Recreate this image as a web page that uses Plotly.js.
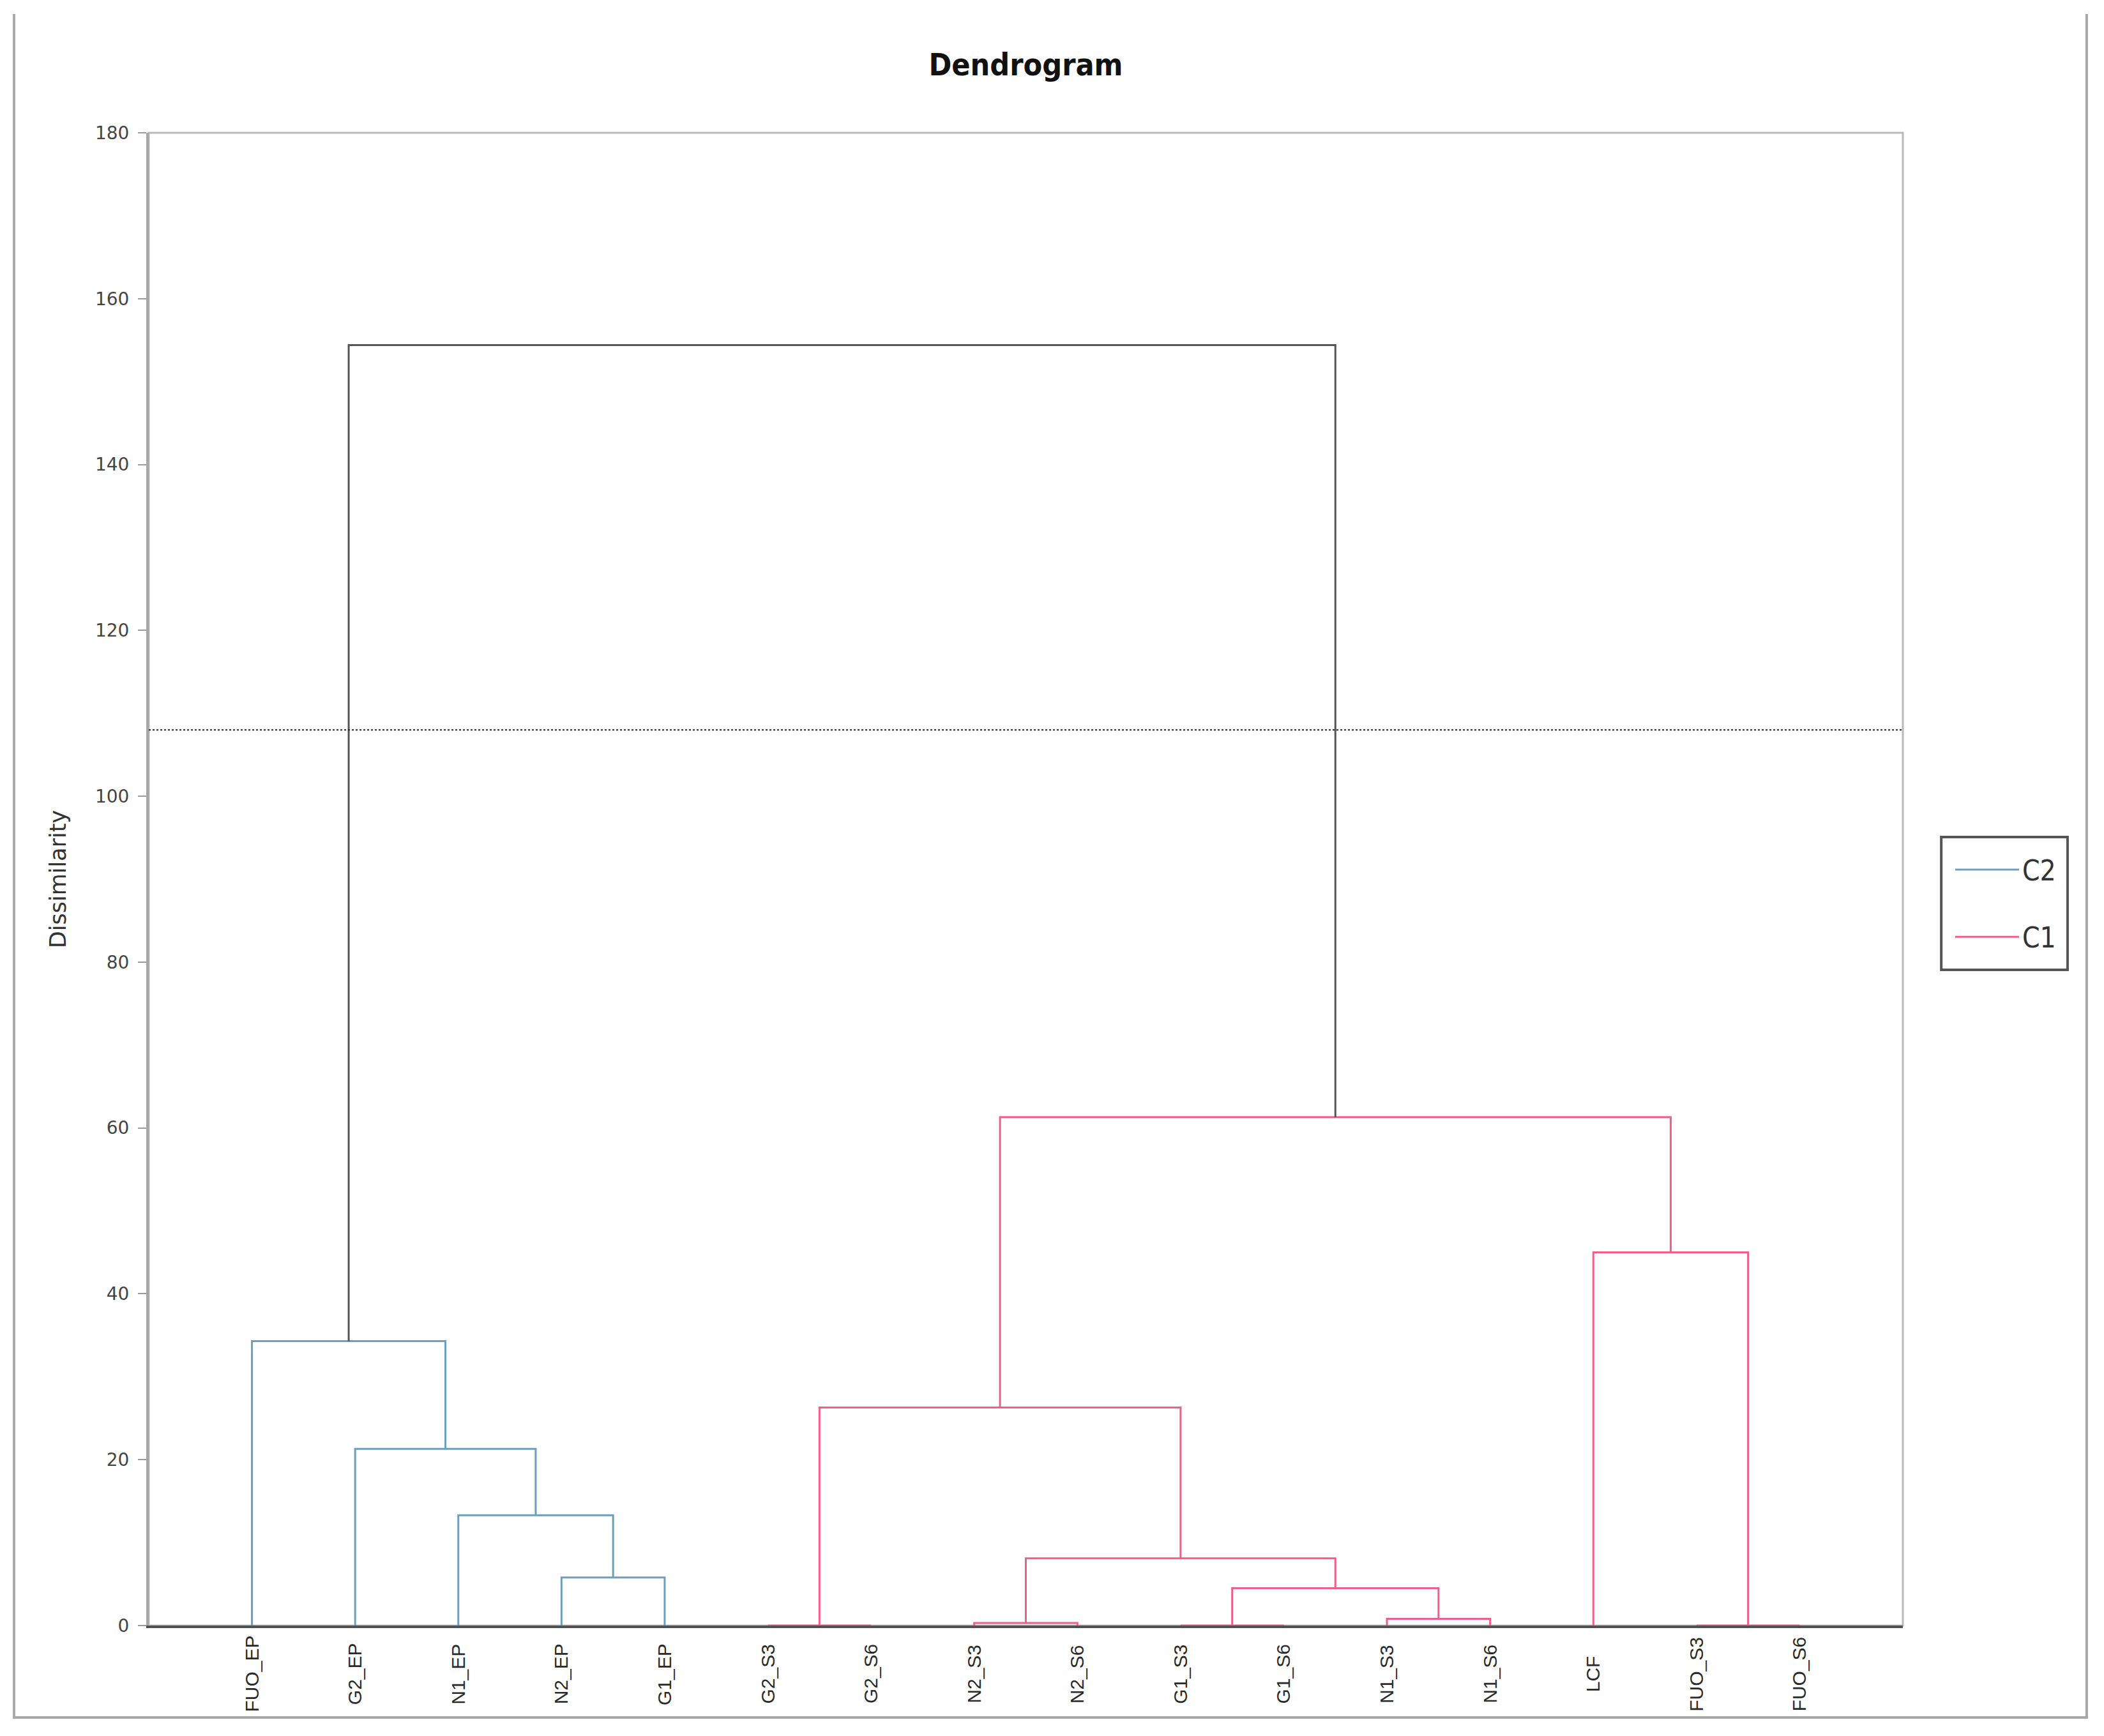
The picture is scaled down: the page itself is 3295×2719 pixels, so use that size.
<!DOCTYPE html>
<html><head><meta charset="utf-8">
<script src="https://cdn.plot.ly/plotly-3.0.1.min.js"></script>
<style>html,body{margin:0;padding:0;background:#fff}</style>
</head><body>
<div id="chart" style="width:3295px;height:2719px"></div>
<script>
// ---- data ----
const leafLabels = ['FUO_EP','G2_EP','N1_EP','N2_EP','G1_EP','G2_S3','G2_S6','N2_S3','N2_S6','G1_S3','G1_S6','N1_S3','N1_S6','LCF','FUO_S3','FUO_S6'];
// linkage: node ids 0..15 are leaves, 16.. are merges in this order
const mergeLeft   = [3, 2, 1, 0, 5, 7, 9, 11, 22, 21, 20, 14, 13, 26, 19];
const mergeRight  = [4, 16, 17, 18, 6, 8, 10, 12, 23, 24, 25, 15, 27, 28, 29];
const mergeHeight = [5.8, 13.3, 21.3, 34.3, 0, 0.3, 0, 0.8, 4.5, 8.1, 26.3, 0, 45.0, 61.3, 154.4];
const mergeClass  = ['C2','C2','C2','C2','C1','C1','C1','C1','C1','C1','C1','C1','C1','C1','root'];
const truncationLevel = 108;
const yTickVals = [0, 20, 40, 60, 80, 100, 120, 140, 160, 180];
const classNames = ['C2', 'C1'];

// ---- styles ----
const classColor = {C2: '#6b9fbf', C1: '#ef5f86', root: '#555555'};
const LEAF_FONT = 'Liberation Sans, Arial, sans-serif';
const NARROW = 'DejaVu Sans Condensed, Liberation Sans Narrow, sans-serif';

// ---- build dendrogram paths ----
const nLeaf = leafLabels.length;
const nodeX = [], nodeY = [];
for (let i = 0; i < nLeaf; i++) { nodeX.push(i + 1); nodeY.push(0); }
const segs = {C2: {x: [], y: []}, C1: {x: [], y: []}, root: {x: [], y: []}};
for (let k = 0; k < mergeLeft.length; k++) {
  const l = mergeLeft[k], r = mergeRight[k], h = mergeHeight[k];
  const s = segs[mergeClass[k]];
  s.x.push(nodeX[l], nodeX[l], nodeX[r], nodeX[r], null);
  s.y.push(nodeY[l], h, h, nodeY[r], null);
  nodeX.push((nodeX[l] + nodeX[r]) / 2);
  nodeY.push(h);
}

const traces = [];
classNames.forEach((c) => {
  traces.push({
    type: 'scatter', mode: 'lines', name: c, legendgroup: c,
    x: segs[c].x, y: segs[c].y,
    line: {color: classColor[c], width: 3}, hoverinfo: 'skip'
  });
});
traces.push({
  type: 'scatter', mode: 'lines', name: 'root', showlegend: false,
  x: segs.root.x, y: segs.root.y,
  line: {color: classColor.root, width: 3}, hoverinfo: 'skip'
});
// truncation line
traces.push({
  type: 'scatter', mode: 'lines', showlegend: false,
  x: [0, nLeaf + 1], y: [truncationLevel, truncationLevel],
  line: {color: '#222', width: 2, dash: 'dot'}, hoverinfo: 'skip'
});

const annotations = leafLabels.map((t, i) => ({
  x: i + 1, xref: 'x', y: -0.0325, yref: 'paper',
  text: t, textangle: -90, showarrow: false,
  xanchor: 'center', yanchor: 'middle',
  font: {family: LEAF_FONT, size: 30, color: '#2a2a2a'}
}));

const layout = {
  width: 3295, height: 2719,
  margin: {l: 233, r: 315, t: 208, b: 173, pad: 0},
  paper_bgcolor: '#ffffff', plot_bgcolor: '#ffffff',
  title: {
    text: '<b>Dendrogram</b>', x: 0.5, xref: 'paper', xanchor: 'center',
    y: 1 - 101 / 2719, yref: 'container', yanchor: 'middle',
    font: {family: NARROW, size: 48, color: '#111'}
  },
  xaxis: {
    range: [0, nLeaf + 1], showticklabels: false, ticks: '',
    showgrid: false, zeroline: false,
    showline: true, linecolor: '#505050', linewidth: 4
  },
  yaxis: {
    range: [0, 180], tickvals: yTickVals, ticks: 'outside', ticklen: 13,
    tickcolor: '#9a9a9a', tickwidth: 2, ticklabelstandoff: 8,
    tickfont: {family: 'DejaVu Sans, Verdana, sans-serif', size: 28, color: '#444'},
    showgrid: false, zeroline: false,
    showline: true, linecolor: '#a6a6a6', linewidth: 4,
    title: {text: 'Dissimilarity', standoff: 36,
      font: {family: 'DejaVu Sans, sans-serif', size: 35, color: '#333'}}
  },
  legend: {
    x: 1.028, y: 0.5214, xanchor: 'left', yanchor: 'top',
    borderwidth: 0, bgcolor: 'rgba(0,0,0,0)',
    font: {family: NARROW, size: 44, color: '#333'},
    itemwidth: 100, traceorder: 'grouped', tracegroupgap: 45
  },
  shapes: [
    // plot frame (top/right light grey)
    {type: 'rect', xref: 'paper', yref: 'paper', x0: 0, x1: 1, y0: 0, y1: 1,
     line: {color: '#b8b8b8', width: 3}, layer: 'below'},
    // legend box
    {type: 'rect', xref: 'paper', yref: 'paper', x0: 1.0219, x1: 1.0939, y0: 0.4393, y1: 0.5282,
     line: {color: '#555555', width: 4}},
    // outer image frame (three sides)
    {type: 'path', xref: 'paper', yref: 'paper',
     path: 'M -0.0768 1.0796 L -0.0768 -0.0616 L 1.1048 -0.0616 L 1.1048 1.0796',
     line: {color: '#a8a8a8', width: 4}}
  ],
  annotations: annotations,
  showlegend: true
};

Plotly.newPlot('chart', traces, layout, {staticPlot: true});
</script>
</body></html>
